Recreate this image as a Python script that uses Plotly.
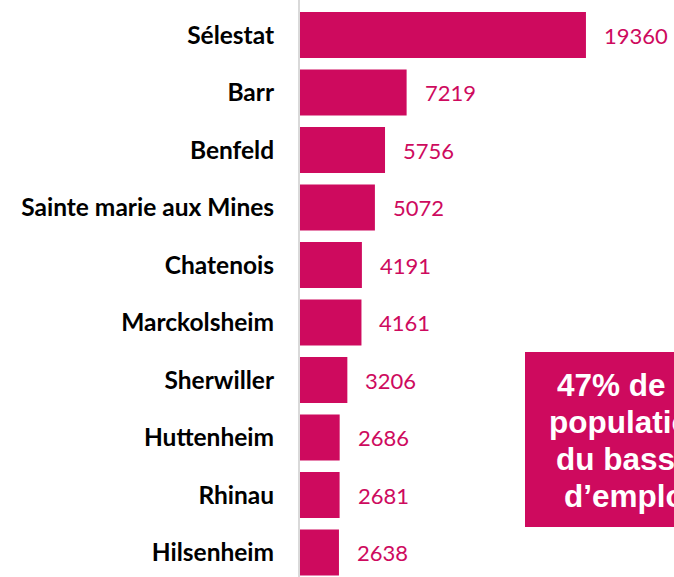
import plotly.graph_objects as go

communes = ["Sélestat", "Barr", "Benfeld", "Sainte marie aux Mines", "Chatenois",
            "Marckolsheim", "Sherwiller", "Huttenheim", "Rhinau", "Hilsenheim"]
population = [19360, 7219, 5756, 5072, 4191, 4161, 3206, 2686, 2681, 2638]
box_lines = ["47% de la", "population", "du bassin", "d’emploi"]

MAGENTA = "#CE0A5E"

W, H = 674, 577
L = 300

fig = go.Figure()
fig.add_trace(go.Bar(
    x=population, y=communes, orientation="h",
    marker=dict(color=MAGENTA, line=dict(width=0)),
    width=0.8, hoverinfo="skip",
))

for c, v in zip(communes, population):
    fig.add_annotation(x=v, y=c, text=str(v), showarrow=False, xanchor="left",
                       xshift=16, font=dict(family="Lato", size=22, color=MAGENTA))

fig.add_shape(type="rect", xref="paper", yref="paper", x0=(525 - L) / (W - L), x1=1.2,
              y0=1 - 527 / H, y1=1 - 352 / H, fillcolor=MAGENTA, line=dict(width=0),
              layer="above")
for i, line in enumerate(box_lines):
    fig.add_annotation(xref="paper", yref="paper", x=(629 - L) / (W - L),
                       y=1 - (385 + 37 * i) / H,
                       text=line, showarrow=False, xanchor="center", yanchor="middle",
                       font=dict(family="Liberation Sans", size=31.5, color="white",
                                 weight="bold"))

fig.update_layout(
    width=W, height=H,
    margin=dict(l=L, r=0, t=0, b=0),
    plot_bgcolor="white", paper_bgcolor="white",
    showlegend=False, bargap=0.2,
    xaxis=dict(range=[0, (W - L) / 0.01477], visible=False, showgrid=False, zeroline=False),
    yaxis=dict(range=[(H - 35) / 57.5, -35 / 57.5], showgrid=False, zeroline=False,
               showline=True, linecolor="#D9D9D9", linewidth=2,
               ticks="", ticklabelstandoff=19,
               tickfont=dict(family="Lato", size=24.5, color="black", weight="bold")),
)

fig.write_html("out.html", config={"displayModeBar": False},
               post_script="document.body.style.margin='0';document.body.style.overflow='hidden';")
